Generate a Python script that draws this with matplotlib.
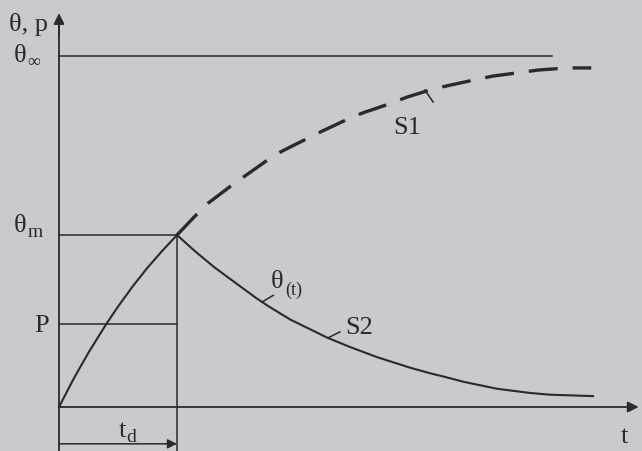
import matplotlib.pyplot as plt

# heating curve up to t_d (theta vs t, t in units where t_d = 2)
t_rise = [0.0, 0.25, 0.5, 0.8, 1.0, 1.25, 1.5, 1.75, 2.0]
th_rise = [0.0, 0.081, 0.155, 0.236, 0.286, 0.344, 0.397, 0.445, 0.490]

# S1: continued heating (dashed)
t_s1 = [2.0, 2.34, 2.53, 2.93, 3.15, 3.58, 3.78, 4.22, 4.46, 4.93, 5.15, 5.64,
        5.90, 6.34, 6.63, 7.10, 7.36, 7.86, 8.12, 8.61, 9.02]
th_s1 = [0.490, 0.550, 0.581, 0.632, 0.658, 0.709, 0.729, 0.766, 0.786, 0.823,
         0.838, 0.866, 0.883, 0.906, 0.917, 0.934, 0.943, 0.954, 0.960, 0.966, 0.966]

# S2: cooling after t_d
t_s2 = [2.0, 2.31, 2.64, 2.98, 3.32, 3.54, 3.92, 4.25, 4.54, 4.93, 5.39, 5.95,
        6.29, 6.51, 6.85, 7.42, 7.98, 8.32, 9.05]
th_s2 = [0.490, 0.443, 0.397, 0.355, 0.313, 0.288, 0.249, 0.222, 0.198, 0.171,
         0.142, 0.112, 0.096, 0.087, 0.072, 0.052, 0.040, 0.035, 0.031]

theta_inf = 1.0
theta_m = 0.490
p_level = 0.236
t_d = 2.0

ink = "#2a2a2a"
bg = "#c9c9ce"
serif = "Liberation Serif"

fig = plt.figure(figsize=(6.42, 4.52), dpi=100, facecolor=bg)
ax = fig.add_axes([0, 0, 1, 1])
ax.set_facecolor(bg)
ax.set_xlim(-1.0, 9.88)
ax.set_ylim(-0.1254, 1.1624)
ax.axis("off")

# axes with arrows
ax.plot([0, 0], [-0.13, 1.10], color=ink, lw=1.3)
ax.annotate("", xy=(0, 1.13), xytext=(0, 1.05),
            arrowprops=dict(arrowstyle="-|>", color=ink, lw=1.3, mutation_scale=16))
ax.plot([0, 9.7], [0, 0], color=ink, lw=1.3)
ax.annotate("", xy=(9.87, 0), xytext=(9.6, 0),
            arrowprops=dict(arrowstyle="-|>", color=ink, lw=1.3, mutation_scale=16))

# reference levels
ax.plot([0, 8.36], [theta_inf, theta_inf], color=ink, lw=1.1)
ax.plot([0, t_d], [theta_m, theta_m], color=ink, lw=1.1)
ax.plot([0, t_d], [p_level, p_level], color=ink, lw=1.1)
ax.plot([t_d, t_d], [-0.13, theta_m], color=ink, lw=1.1)
ax.annotate("", xy=(t_d, -0.105), xytext=(0, -0.105),
            arrowprops=dict(arrowstyle="-|>", color=ink, lw=1.1, mutation_scale=14,
                            shrinkA=0, shrinkB=0))

# curves
ax.plot(t_rise, th_rise, color=ink, lw=1.5)
ax.plot(t_s2, th_s2, color=ink, lw=1.5)
ax.plot(t_s1, th_s1, color=ink, lw=2.4, dashes=(8.7, 4.5), dash_capstyle="butt")

# leader ticks
ax.plot([6.20, 6.34], [0.903, 0.869], color=ink, lw=1.1)
ax.plot([3.44, 3.63], [0.299, 0.318], color=ink, lw=1.1)
ax.plot([4.56, 4.76], [0.197, 0.214], color=ink, lw=1.1)

txt = dict(color=ink, family=serif, ha="center", va="center")
ax.text(-0.51, 1.094, "θ, p", fontsize=19, **txt)
ax.text(-0.66, 1.003, "θ", fontsize=19, **txt)
ax.text(-0.43, 0.983, "∞", fontsize=13, **txt)
ax.text(-0.66, 0.519, "θ", fontsize=19, **txt)
ax.text(-0.40, 0.499, "m", fontsize=14, **txt)
ax.text(-0.29, 0.234, "P", fontsize=19, **txt)
ax.text(1.07, -0.066, "t", fontsize=19, **txt)
ax.text(1.22, -0.085, "d", fontsize=14, **txt)
ax.text(9.59, -0.083, "t", fontsize=19, **txt)
ax.text(5.90, 0.798, "S1", fontsize=19, **txt)
ax.text(3.69, 0.358, "θ", fontsize=19, **txt)
ax.text(3.98, 0.336, "(t)", fontsize=13, **txt)
ax.text(5.08, 0.228, "S2", fontsize=19, **txt)

fig.savefig("out.png", dpi=100, facecolor=bg)
